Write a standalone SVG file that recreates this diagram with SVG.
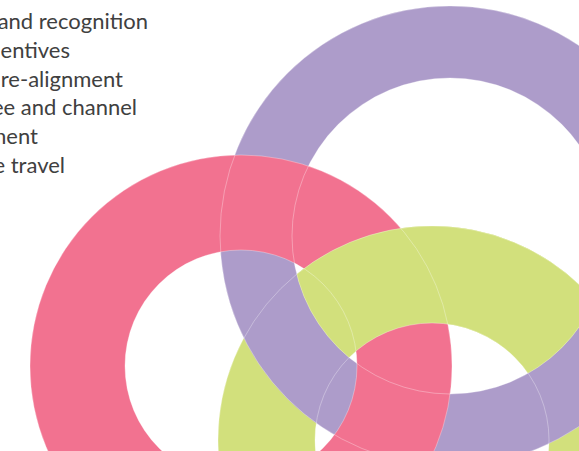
<svg xmlns="http://www.w3.org/2000/svg" width="579" height="451" viewBox="0 0 579 451">
  <style>
    .ring { fill-rule: evenodd; }
    .purple { fill: #AD9CCA; }
    .pink { fill: #F27290; }
    .green { fill: #D2E07C; }
    .edge { fill: none; stroke: #FFFFFF; stroke-opacity: 0.45; stroke-width: 0.7; }
    .txt { font-family: "Lato", "Liberation Sans", sans-serif; font-size: 22px; fill: #404040; text-anchor: end; }
  </style>
  <defs>
    <clipPath id="purpleHole">
      <circle cx="450" cy="236" r="158"/>
    </clipPath>
    <path id="greenRing" d="M218,440 a214,214 0 1,0 428,0 a214,214 0 1,0 -428,0 Z M315,440 a117,117 0 1,0 234,0 a117,117 0 1,0 -234,0 Z"/>
  </defs>
  <rect x="0" y="0" width="579" height="451" fill="#FFFFFF"/>

  <g id="text">
    <text class="txt" x="148" y="29">and recognition</text>
    <text class="txt" x="70" y="58">entives</text>
    <text class="txt" x="123" y="86.5">re-alignment</text>
    <text class="txt" x="137" y="115">ee and channel</text>
    <text class="txt" x="38" y="144">ment</text>
    <text class="txt" x="65" y="172.5">e travel</text>
  </g>

  <g id="ring-green">
    <use href="#greenRing" class="ring green"/>
  </g>
  <g id="ring-purple">
    <path class="ring purple" d="M220,236 a230,230 0 1,0 460,0 a230,230 0 1,0 -460,0 Z M292,236 a158,158 0 1,0 316,0 a158,158 0 1,0 -316,0 Z"/>
  </g>
  <g id="ring-pink">
    <path class="ring pink" d="M30,366 a211,211 0 1,0 422,0 a211,211 0 1,0 -422,0 Z M125,366 a116,116 0 1,0 232,0 a116,116 0 1,0 -232,0 Z"/>
  </g>
  <g id="ring-green-over" clip-path="url(#purpleHole)">
    <use href="#greenRing" class="ring green"/>
  </g>

  <g id="connectors">
    <circle class="edge" cx="450" cy="236" r="230"/>
    <circle class="edge" cx="450" cy="236" r="158"/>
    <circle class="edge" cx="241" cy="366" r="211"/>
    <circle class="edge" cx="241" cy="366" r="116"/>
    <circle class="edge" cx="432" cy="440" r="214"/>
    <circle class="edge" cx="432" cy="440" r="117"/>
  </g>
</svg>
